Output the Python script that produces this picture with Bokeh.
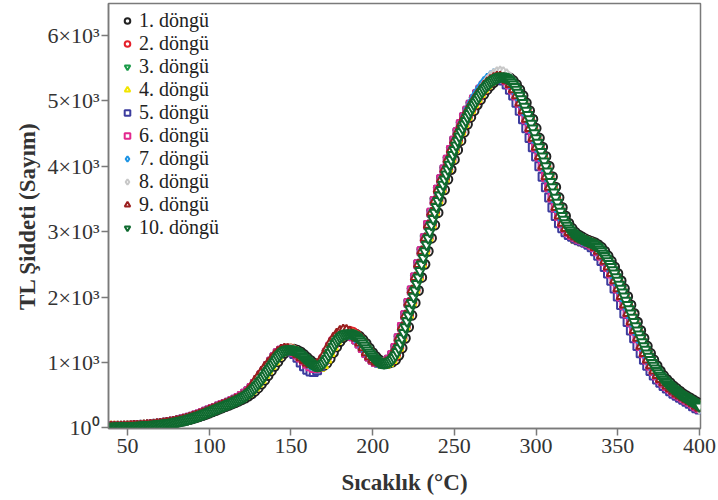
from bokeh.plotting import figure
from bokeh.models import FixedTicker, Range1d
from bokeh.embed import file_html
from bokeh.resources import INLINE

# Temperature grids (°C): cycles 1-9 read every 2 °C, cycle 10 every 1 °C
temperature = list(range(40, 401, 2))
temperature_10 = list(range(40, 401, 1))

cycle_1 = [19,20,20,21,22,23,25,27,29,31,34,37,40,44,48,53,58,64,70,77,
           85,94,104,115,127,140,155,170,187,205,224,245,265,285,305,325,345,365,385,408,
           430,455,485,520,560,610,670,730,800,870,940,1010,1080,1140,1180,1200,1200,1185,1160,1120,
           1075,1030,990,960,945,950,990,1060,1150,1240,1320,1380,1420,1440,1445,1430,1400,1350,1290,1220,
           1150,1090,1040,1005,990,990,1005,1040,1110,1220,1370,1540,1720,1910,2100,2300,2500,2700,2900,3100,
           3290,3470,3640,3800,3950,4100,4250,4390,4520,4640,4750,4850,4940,5020,5100,5170,5230,5280,5320,5350,
           5370,5370,5350,5310,5250,5170,5080,4970,4850,4720,4580,4430,4290,4150,4000,3840,3680,3520,3370,3240,
           3130,3050,2990,2950,2920,2890,2870,2850,2830,2800,2760,2700,2630,2550,2460,2360,2250,2130,2010,1880,
           1750,1620,1490,1370,1250,1140,1040,950,870,800,740,690,640,600,560,520,490,460,430,400,
           370]

cycle_2 = [20,20,21,22,23,25,27,29,31,34,37,40,44,48,53,58,64,70,77,85,
           94,104,115,127,140,155,170,187,205,224,245,265,285,305,325,345,365,385,408,430,
           470,505,545,600,665,735,805,870,935,1000,1060,1120,1165,1195,1210,1205,1185,1150,1110,1065,
           1020,985,960,950,960,1005,1080,1170,1260,1340,1400,1445,1470,1475,1460,1425,1370,1305,1235,1165,
           1090,1040,1005,990,990,1005,1040,1110,1220,1370,1540,1720,1910,2100,2300,2500,2700,2900,3100,3290,
           3470,3640,3800,3950,4100,4250,4390,4520,4640,4750,4850,4940,5020,5100,5170,5230,5280,5320,5350,5370,
           5370,5350,5310,5250,5170,5080,4970,4850,4720,4580,4430,4290,4150,4000,3840,3680,3520,3370,3240,3130,
           3050,2990,2950,2920,2890,2870,2850,2830,2800,2760,2700,2630,2550,2460,2360,2250,2130,2010,1880,1750,
           1620,1490,1370,1250,1140,1040,950,870,800,740,690,640,600,560,520,490,460,430,400,370,
           330]

cycle_3 = [20,21,22,23,25,27,29,31,34,37,40,44,48,53,58,64,70,77,85,94,
           104,115,127,140,155,170,187,205,224,245,265,285,305,325,345,365,385,408,430,455,
           485,520,560,610,670,730,800,870,940,1010,1080,1140,1180,1200,1200,1185,1160,1120,1075,1030,
           990,960,945,950,990,1060,1150,1240,1320,1380,1420,1440,1445,1430,1400,1350,1290,1220,1150,1090,
           1040,1005,990,990,1005,1040,1110,1220,1370,1540,1720,1910,2100,2300,2500,2700,2900,3100,3290,3470,
           3640,3800,3950,4100,4250,4390,4520,4640,4750,4850,4940,5020,5100,5170,5230,5280,5320,5350,5370,5370,
           5350,5310,5250,5170,5080,4970,4850,4720,4580,4430,4290,4150,4000,3840,3680,3520,3370,3240,3130,3050,
           2990,2950,2920,2890,2870,2850,2830,2800,2760,2700,2630,2550,2460,2360,2250,2130,2010,1880,1750,1620,
           1490,1370,1250,1140,1040,950,870,800,740,690,640,600,560,520,490,460,430,400,370,330,
           300]

cycle_4 = [20,20,21,22,23,25,27,29,31,34,37,40,44,48,53,58,64,70,77,85,
           94,104,115,127,140,155,170,187,205,224,245,265,285,305,325,345,365,385,408,430,
           455,485,520,560,610,670,730,800,870,940,1010,1080,1140,1180,1200,1200,1185,1160,1120,1075,
           1030,975,930,905,910,955,1040,1140,1235,1320,1380,1420,1440,1445,1430,1400,1350,1290,1220,1150,
           1080,1020,975,955,960,985,1030,1110,1220,1370,1540,1720,1910,2100,2300,2500,2700,2900,3100,3290,
           3470,3640,3800,3950,4100,4250,4390,4520,4640,4750,4850,4940,5020,5100,5170,5230,5280,5320,5350,5370,
           5370,5350,5310,5250,5170,5080,4970,4850,4720,4580,4430,4290,4150,4000,3840,3680,3520,3370,3240,3130,
           3000,2920,2870,2850,2830,2820,2810,2800,2780,2740,2680,2610,2530,2440,2340,2230,2110,1990,1860,1730,
           1620,1490,1370,1250,1140,1040,950,870,800,740,690,640,600,560,520,490,460,430,400,370,
           330]

cycle_5 = [20,21,22,23,25,27,29,31,34,37,40,44,48,53,58,64,70,77,85,94,
           104,115,127,140,155,170,187,205,224,245,265,285,305,325,345,365,385,408,430,455,
           485,520,560,610,670,730,800,870,940,1010,1080,1140,1180,1200,1195,1170,1130,1070,1000,940,
           890,860,855,880,940,1030,1130,1230,1310,1375,1420,1440,1445,1430,1400,1350,1290,1220,1150,1090,
           1040,1005,990,990,1005,1040,1110,1220,1370,1540,1720,1910,2100,2300,2500,2700,2900,3100,3290,3470,
           3640,3800,3950,4100,4250,4390,4520,4640,4750,4850,4940,5020,5100,5170,5230,5280,5320,5350,5370,5370,
           5310,5250,5170,5080,4970,4850,4720,4580,4430,4290,4150,4000,3840,3680,3520,3370,3240,3130,3050,2990,
           2950,2920,2890,2870,2850,2830,2800,2760,2700,2630,2550,2460,2360,2250,2130,2010,1880,1750,1620,1490,
           1370,1250,1140,1040,950,870,800,740,690,640,600,560,520,490,460,430,400,370,330,300,
           280]

cycle_6 = [20,21,22,23,25,27,29,31,34,37,40,44,48,53,58,64,70,77,85,94,
           104,115,127,140,155,170,187,205,224,245,265,285,305,325,345,365,385,408,430,455,
           485,520,560,610,670,730,800,870,940,1010,1080,1140,1180,1200,1200,1185,1160,1120,1075,1030,
           980,940,915,920,970,1050,1150,1240,1320,1380,1420,1440,1445,1430,1400,1350,1290,1220,1150,1090,
           1040,1005,990,990,1005,1040,1110,1220,1370,1540,1720,1910,2100,2300,2500,2700,2900,3100,3290,3470,
           3640,3800,3950,4100,4250,4390,4520,4640,4750,4850,4940,5020,5100,5170,5230,5280,5320,5350,5370,5370,
           5350,5310,5250,5170,5080,4970,4850,4720,4580,4430,4290,4150,4000,3840,3680,3520,3370,3240,3130,3050,
           2990,2950,2920,2890,2870,2850,2830,2800,2760,2700,2630,2550,2460,2360,2250,2130,2010,1880,1750,1620,
           1490,1370,1250,1140,1040,950,870,800,740,690,640,600,560,520,490,460,430,400,370,330,
           300]

cycle_7 = [20,21,22,23,25,27,29,31,34,37,40,44,48,53,58,64,70,77,85,94,
           104,115,127,140,155,170,187,205,224,245,265,285,305,325,345,365,385,408,430,455,
           485,520,560,610,670,730,800,870,940,1010,1080,1140,1180,1200,1200,1185,1160,1120,1075,1030,
           990,960,945,950,990,1060,1150,1240,1320,1380,1420,1440,1445,1430,1400,1350,1290,1220,1150,1090,
           1040,1005,990,990,1005,1040,1110,1220,1370,1540,1720,1910,2100,2300,2500,2700,2900,3100,3290,3470,
           3640,3800,3950,4100,4250,4390,4520,4640,4760,4870,4970,5060,5140,5220,5290,5340,5380,5410,5420,5410,
           5380,5320,5250,5170,5080,4970,4850,4720,4580,4430,4290,4150,4000,3840,3680,3520,3370,3240,3130,3050,
           2990,2950,2920,2890,2870,2850,2830,2800,2760,2700,2630,2550,2460,2360,2250,2130,2010,1880,1750,1620,
           1490,1370,1250,1140,1040,950,870,800,740,690,640,600,560,520,490,460,430,400,370,330,
           300]

cycle_8 = [20,20,21,22,23,25,27,29,31,34,37,40,44,48,53,58,64,70,77,85,
           94,104,115,127,140,155,170,187,205,224,245,265,285,305,325,345,365,385,408,430,
           455,485,520,560,610,670,730,800,870,940,1010,1080,1140,1180,1200,1200,1185,1160,1120,1075,
           1030,990,960,945,950,990,1060,1150,1240,1320,1380,1420,1440,1445,1430,1400,1350,1290,1220,1150,
           1090,1040,1005,990,990,1005,1040,1110,1220,1370,1540,1720,1910,2100,2300,2500,2700,2900,3100,3290,
           3470,3640,3800,3950,4100,4250,4390,4520,4650,4770,4880,4980,5070,5160,5240,5310,5370,5410,5440,5450,
           5440,5410,5360,5290,5200,5100,4980,4850,4720,4580,4430,4290,4150,4000,3840,3680,3520,3370,3240,3130,
           3050,2990,2950,2920,2890,2870,2850,2830,2800,2760,2700,2630,2550,2460,2360,2250,2130,2010,1880,1750,
           1620,1490,1370,1250,1140,1040,950,870,800,740,690,640,600,560,520,490,460,430,400,370,
           290]

cycle_9 = [20,21,22,23,25,27,29,31,34,37,40,44,48,53,58,64,70,77,85,94,
           104,115,127,140,155,170,187,205,224,245,265,285,305,325,345,365,385,408,430,455,
           485,520,575,640,720,790,860,930,990,1050,1110,1160,1195,1210,1205,1185,1160,1120,1075,1030,
           990,965,960,975,1030,1110,1210,1300,1380,1440,1480,1500,1495,1470,1430,1370,1300,1225,1150,1090,
           1040,1005,990,990,1005,1040,1110,1220,1370,1540,1720,1910,2100,2300,2500,2700,2900,3100,3290,3470,
           3640,3800,3950,4100,4250,4390,4520,4640,4750,4850,4940,5020,5100,5170,5230,5280,5320,5350,5370,5370,
           5350,5310,5250,5170,5080,4970,4850,4720,4580,4430,4290,4150,4000,3840,3680,3520,3370,3240,3130,3050,
           2990,2950,2920,2890,2870,2850,2830,2800,2760,2700,2630,2550,2460,2360,2250,2130,2010,1880,1750,1620,
           1490,1370,1250,1140,1040,950,870,800,740,690,640,600,560,520,490,460,430,400,370,330,
           300]

cycle_10 = [20,20,20,20,21,21,22,22,23,24,25,26,27,28,29,30,31,32,34,35,
            37,38,40,42,44,46,48,50,53,55,58,61,64,67,70,73,77,81,85,89,
            94,99,104,109,115,121,127,133,140,147,155,162,170,178,187,196,205,214,224,234,
            245,255,265,275,285,295,305,315,325,335,345,355,365,375,385,396,408,419,430,442,
            455,470,485,502,520,540,560,585,610,640,670,700,730,765,800,835,870,905,940,975,
            1010,1045,1080,1110,1140,1162,1180,1192,1200,1202,1200,1193,1185,1173,1160,1140,1120,1098,1075,1052,
            1030,1010,990,974,960,951,945,946,950,967,990,1023,1060,1105,1150,1195,1240,1282,1320,1352,
            1380,1402,1420,1432,1440,1444,1445,1440,1430,1417,1400,1377,1350,1322,1290,1256,1220,1185,1150,1118,
            1090,1063,1040,1021,1005,996,990,988,990,996,1005,1020,1040,1072,1110,1160,1220,1292,1370,1453,
            1540,1630,1720,1815,1910,2005,2100,2200,2300,2400,2500,2600,2700,2800,2900,3000,3100,3195,3290,3380,
            3470,3555,3640,3720,3800,3875,3950,4025,4100,4175,4250,4320,4390,4455,4520,4580,4640,4695,4750,4800,
            4850,4895,4940,4980,5020,5060,5100,5135,5170,5200,5230,5255,5280,5300,5320,5335,5350,5362,5370,5372,
            5370,5362,5350,5332,5310,5282,5250,5212,5170,5127,5080,5027,4970,4910,4850,4785,4720,4650,4580,4505,
            4430,4360,4290,4220,4150,4075,4000,3920,3840,3760,3680,3600,3520,3445,3370,3305,3240,3185,3130,3090,
            3050,3020,2990,2970,2950,2935,2920,2905,2890,2880,2870,2860,2850,2840,2830,2815,2800,2780,2760,2730,
            2700,2665,2630,2590,2550,2505,2460,2410,2360,2305,2250,2190,2130,2070,2010,1945,1880,1815,1750,1685,
            1620,1555,1490,1430,1370,1310,1250,1195,1140,1090,1040,995,950,910,870,835,800,770,740,715,
            690,665,640,620,600,580,560,540,520,505,490,475,460,445,430,415,400,385,370,350,
            330]

series = [cycle_1, cycle_2, cycle_3, cycle_4, cycle_5,
          cycle_6, cycle_7, cycle_8, cycle_9, cycle_10]
x_grids = [temperature] * 9 + [temperature_10]
labels = ["1. döngü", "2. döngü", "3. döngü", "4. döngü", "5. döngü",
          "6. döngü", "7. döngü", "8. döngü", "9. döngü", "10. döngü"]
colors = ["#222222", "#e5202a", "#1a9a48", "#f2e500", "#3c3c9e",
          "#e2288e", "#1e94e4", "#c8c8c8", "#9a1e1e", "#0f6a2f"]
markers = ["circle", "circle", "inverted_triangle", "triangle", "square",
           "square", "diamond", "diamond", "triangle", "inverted_triangle"]

x_ticks = [50, 100, 150, 200, 250, 300, 350, 400]
y_ticks = [0, 1000, 2000, 3000, 4000, 5000, 6000]
y_tick_labels = ["10⁰", "1×10³", "2×10³", "3×10³", "4×10³", "5×10³", "6×10³"]

SERIF = "Liberation Serif"
GRAY = "#7a7a7a"

p = figure(width=718, height=500, output_backend="svg", toolbar_location=None,
           x_range=Range1d(38.4, 400.6), y_range=Range1d(-10, 6488),
           min_border_left=108, min_border_right=18, min_border_top=3,
           min_border_bottom=72, background_fill_color="white",
           border_fill_color="white")

for i, (xs, ys, lab, col, mk) in enumerate(zip(x_grids, series, labels, colors, markers)):
    if mk == "diamond":
        sz = 10
    elif mk == "square":
        sz = 8
    elif i == 9:
        sz = 10
    else:
        sz = 9
    p.scatter(xs, ys, marker=mk, size=sz, line_color=col,
              fill_color="white", line_width=2.0, legend_label=lab)

p.xgrid.visible = False
p.ygrid.visible = False
p.outline_line_color = GRAY
p.outline_line_width = 1.5

p.xaxis.ticker = FixedTicker(ticks=x_ticks)
p.yaxis.ticker = FixedTicker(ticks=y_ticks)
p.yaxis.major_label_overrides = {t: s for t, s in zip(y_ticks, y_tick_labels)}

for ax in (p.xaxis[0], p.yaxis[0]):
    ax.axis_line_color = GRAY
    ax.axis_line_width = 1.5
    ax.major_tick_line_color = GRAY
    ax.major_tick_line_width = 1.5
    ax.major_tick_out = 7
    ax.major_tick_in = 0
    ax.minor_tick_line_color = None
    ax.major_label_text_font = SERIF
    ax.major_label_text_font_size = "22px"
    ax.major_label_text_color = "#333333"
    ax.axis_label_text_font = SERIF
    ax.axis_label_text_font_style = "bold"
    ax.axis_label_text_font_size = "23px"
    ax.axis_label_text_color = "#333333"

p.xaxis.axis_label = "Sıcaklık (°C)"
p.yaxis.axis_label = "TL Şiddeti (Sayım)"
p.xaxis.major_label_standoff = 3
p.xaxis.axis_label_standoff = 14
p.yaxis.major_label_standoff = 2
p.yaxis.axis_label_standoff = 4

lg = p.legend[0]
lg.location = (12, 189)
lg.border_line_color = None
lg.background_fill_alpha = 0
lg.padding = 4
lg.margin = 0
lg.spacing = 0
lg.glyph_width = 14
lg.glyph_height = 23
lg.label_height = 23
lg.label_standoff = 5
lg.label_text_font = SERIF
lg.label_text_font_size = "20px"
lg.label_text_color = "#222222"

open("out.html", "w").write(file_html(p, INLINE))
